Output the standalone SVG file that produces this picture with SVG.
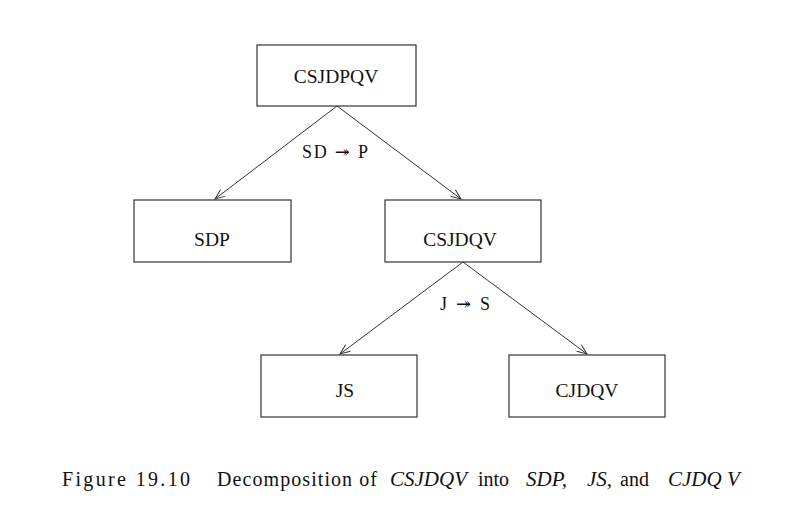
<svg xmlns="http://www.w3.org/2000/svg" width="811" height="532" viewBox="0 0 811 532">
  <style>
    .box { fill: #fff; stroke: #333; stroke-width: 1.2; }
    .lbl { font-family: "Liberation Serif", "Times New Roman", serif; font-size: 19.5px; fill: #111; text-anchor: middle; }
    .edge { stroke: #333; stroke-width: 1; fill: none; marker-end: url(#arr); }
    .fd { font-family: "Liberation Serif", "DejaVu Serif", serif; font-size: 18px; fill: #111; }
    .cap { font-family: "Liberation Serif", "Times New Roman", serif; font-size: 20px; fill: #111; }
    .it { font-style: italic; font-size: 21px; }
  </style>
  <defs>
    <marker id="arr" markerWidth="12" markerHeight="10" refX="11" refY="5" orient="auto" markerUnits="userSpaceOnUse">
      <path d="M1,1 L11,5 L1,9" fill="none" stroke="#333" stroke-width="1"/>
    </marker>
  </defs>

  <g id="connectors">
    <line class="edge" x1="337" y1="106" x2="215" y2="199"/>
    <line class="edge" x1="337" y1="106" x2="461" y2="199"/>
    <line class="edge" x1="463" y1="262" x2="340" y2="354"/>
    <line class="edge" x1="463" y1="262" x2="587" y2="354"/>
    <text class="fd" x="302" y="158" textLength="66" lengthAdjust="spacing">SD ↠ P</text>
    <text class="fd" x="440" y="310" textLength="50" lengthAdjust="spacing">J ↠ S</text>
  </g>

  <g id="n-CSJDPQV">
    <rect class="box" x="257" y="45" width="159" height="61"/>
    <text class="lbl" x="336" y="83">CSJDPQV</text>
  </g>
  <g id="n-SDP">
    <rect class="box" x="134" y="200" width="157" height="62"/>
    <text class="lbl" x="212" y="246">SDP</text>
  </g>
  <g id="n-CSJDQV">
    <rect class="box" x="385" y="200" width="156" height="62"/>
    <text class="lbl" x="460" y="246">CSJDQV</text>
  </g>
  <g id="n-JS">
    <rect class="box" x="261" y="355" width="156" height="62"/>
    <text class="lbl" x="345" y="397">JS</text>
  </g>
  <g id="n-CJDQV">
    <rect class="box" x="509" y="355" width="156" height="62"/>
    <text class="lbl" x="587" y="397">CJDQV</text>
  </g>

  <g id="caption">
    <text class="cap" x="62" y="486" textLength="128" lengthAdjust="spacing">Figure 19.10</text>
    <text class="cap" x="217" y="486" textLength="160" lengthAdjust="spacing">Decomposition of</text>
    <text class="cap it" x="390" y="486">CSJDQV</text>
    <text class="cap" x="478" y="486">into</text>
    <text class="cap it" x="526" y="486">SDP,</text>
    <text class="cap it" x="587" y="486">JS,</text>
    <text class="cap" x="620" y="486">and</text>
    <text class="cap it" x="668" y="486">CJDQ V</text>
  </g>
</svg>
